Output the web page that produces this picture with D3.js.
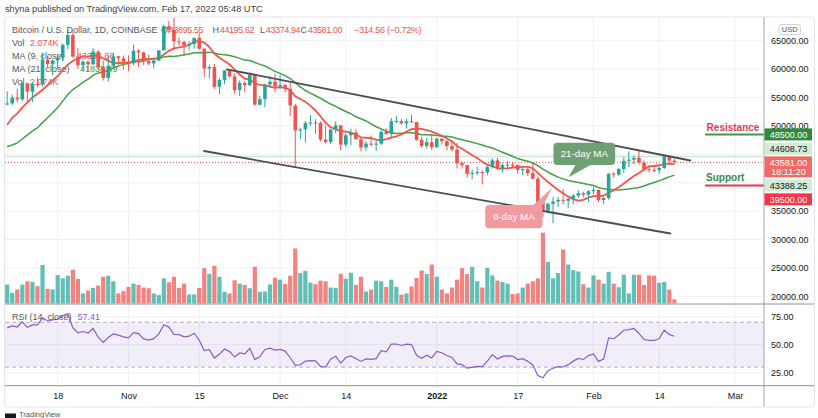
<!DOCTYPE html>
<html><head><meta charset="utf-8">
<script src="https://cdn.jsdelivr.net/npm/d3@7"></script>
<style>
body{margin:0;background:#fff}
svg{display:block}
text{font-family:"Liberation Sans",Arial,sans-serif}
</style>
</head><body>
<svg id="chart" width="818" height="418"></svg>
<script>
// ---------------- DATA (BTC/USD, Coinbase, 1D) ----------------
const firstDay = "2021-10-08";
// closes of the 37 days before the first visible candle (Sep 1 - Oct 7), used for MA/RSI warm-up (thousands USD)
const warmupClosesK = [48.85,49.3,50.0,49.9,51.75,52.66,46.86,46.07,46.4,44.85,45.16,46.03,44.96,47.1,48.15,47.77,47.3,
 48.3,47.25,42.96,40.59,43.57,44.9,42.84,42.72,43.21,42.23,41.05,41.56,43.82,48.15,47.66,48.23,49.26,51.5,55.34,53.8];
const firstOpenK = 53.8;
const closesK = [
 53.95,54.96,54.68,57.48,56.04,57.37,57.35,61.67,60.87,61.53,62.01,64.28,66.0,62.2,60.69,61.3,60.85,63.08,60.33,58.45,60.59,62.25,61.89,61.32,
 61.0,63.22,62.93,61.4,61.0,61.52,63.3,67.55,66.94,64.88,64.8,64.15,64.4,65.5,63.6,60.1,60.37,56.89,58.1,59.75,58.7,56.3,57.57,57.17,58.96,53.73,54.72,57.27,57.8,56.95,
 57.2,56.5,53.6,49.2,49.4,50.5,50.6,50.5,47.6,47.15,49.35,50.1,46.7,48.35,48.86,47.65,46.2,46.88,46.7,46.88,48.94,48.61,50.82,50.85,50.43,50.8,50.7,47.54,46.47,47.14,46.22,
 47.74,47.31,46.46,45.83,43.43,43.1,41.56,41.73,41.88,41.82,42.74,43.93,42.6,43.1,43.18,43.11,42.25,42.38,41.69,40.7,36.48,35.08,36.28,36.69,36.98,36.83,37.19,37.74,38.16,37.9,38.49,
 38.74,36.95,37.3,41.58,41.41,42.41,43.85,44.06,44.39,43.53,42.39,42.21,42.2,42.59,44.59,43.89555,43.581];
const highsK = [
 56.1,55.5,56.5,57.8,57.6,57.7,58.5,62.9,62.3,61.7,62.6,64.5,67.0,66.6,63.7,61.7,61.5,63.7,63.3,61.5,62.5,62.9,62.3,62.4,
 62.4,64.3,63.5,63.1,62.6,61.6,63.3,67.8,68.5,69.0,65.6,65.0,64.9,65.5,66.3,63.6,60.8,60.9,58.4,59.8,60.0,59.3,58.0,57.8,59.4,59.2,55.3,57.4,58.8,59.2,
 59.0,57.4,57.6,53.9,49.7,50.9,51.9,51.2,50.8,50.1,49.5,50.8,50.2,48.7,49.5,49.4,48.0,47.3,48.3,47.5,49.3,49.6,51.4,51.8,51.2,51.3,52.0,50.7,48.1,47.9,48.5,
 47.9,47.9,47.5,47.5,47.0,43.7,43.1,42.3,42.8,42.2,43.1,44.3,44.4,43.4,43.8,43.5,43.2,42.7,42.6,43.5,41.1,36.8,36.5,37.5,37.5,38.9,37.2,38.0,38.7,38.4,38.7,
 39.3,38.8,37.4,41.7,41.9,42.6,44.5,45.5,44.8,45.8,43.9,43.0,42.7,42.9,44.7,44.6,44.19562];
const lowsK = [
 53.6,53.7,54.1,54.4,54.0,54.2,56.8,56.9,60.2,58.9,60.0,61.4,63.5,62.0,60.0,59.7,59.5,60.7,59.9,58.0,57.8,60.2,60.7,59.9,
 59.6,60.7,60.4,60.7,60.7,60.1,61.4,63.3,66.3,63.3,64.1,62.3,63.3,63.6,63.4,58.6,58.4,56.5,55.6,57.4,58.5,55.7,55.3,55.9,57.0,53.6,53.6,53.3,56.7,56.0,
 56.5,55.9,51.7,42.7,47.7,47.1,50.0,48.6,47.3,46.9,46.8,48.7,45.7,46.3,46.6,47.6,45.5,45.6,46.4,45.6,46.6,48.4,48.0,50.5,50.2,49.5,50.5,47.4,46.1,46.0,45.7,
 46.2,46.7,45.7,45.5,42.5,42.5,40.9,40.6,41.3,39.7,41.3,42.5,42.3,41.8,42.6,42.7,41.6,41.3,41.2,40.6,35.5,34.0,34.6,32.9,35.7,36.2,35.5,36.2,37.3,37.4,36.6,
 38.0,36.6,36.3,37.0,40.9,41.2,41.7,42.7,43.2,43.2,42.0,41.8,41.9,41.6,42.4,43.3,43.37494];
// daily volume (thousand BTC)
const volumesK = [
 5.7,3.2,4.2,5.7,6.7,6.5,5.2,11.7,4.4,4.2,8.6,7.6,8.4,10.2,7.4,3.0,3.9,4.7,5.4,8.1,8.4,6.7,3.0,3.7,
 5.0,6.0,5.6,4.8,4.6,3.0,2.5,7.6,6.4,8.1,4.7,6.0,2.7,2.7,4.7,10.7,9.0,11.4,8.1,3.5,3.0,7.0,6.0,5.6,4.6,11.1,3.5,3.6,5.7,7.8,
 7.2,5.9,8.4,16.7,9.2,9.9,6.3,5.8,6.9,6.7,4.8,4.7,9.0,7.5,9.3,5.6,8.1,3.6,4.2,6.9,6.7,5.0,7.2,5.0,2.6,3.0,5.1,7.7,10.0,8.9,11.8,
 8.1,4.2,3.0,4.8,7.2,10.7,8.9,11.1,6.7,4.8,10.8,8.5,6.9,6.5,6.0,2.8,3.0,4.8,6.0,6.7,7.6,21.5,12.6,7.6,9.2,16.4,11.8,10.1,9.7,5.8,4.8,
 8.5,7.2,6.0,9.6,6.0,4.9,8.7,3.0,8.7,8.7,5.6,8.5,8.4,6.3,6.5,4.2,1.2];

// legend texts as shown on the chart
const legendTitle = "Bitcoin / U.S. Dollar, 1D, COINBASE";
const legendOHLC = [["O","43895.55"],["H","44195.62"],["L","43374.94"],["C","43581.00"]];
const legendChange = "\u2212314.56 (\u22120.72%)";
const legendVol = "2.074K", legendMA9 = "43388.68", legendMA21 = "41838.49", legendRSI = "57.41";

// axes
const priceTicks = [65000,60000,55000,50000,45000,40000,35000,30000,25000,20000];
const rsiTicks = [75,50,25];
const timeTickDates = ["2021-10-18","2021-11-01","2021-11-15","2021-12-01","2021-12-14","2022-01-01","2022-01-17","2022-02-01","2022-02-14","2022-03-01"];
const timeTickLabels = ["18","Nov","15","Dec","14","2022","17","Feb","14","Mar"];

// drawings made by the author (data coordinates)
const channelUpper = [["2021-11-20T11:00",59965],["2022-02-20T04:00",43908]];
const channelLower = [["2021-11-15T23:00",45581],["2022-02-16T05:00",31056]];
const resistanceLevel = 48500, supportLevel = 39500;
const levelSpan = ["2022-02-23T02:00","2022-03-07T10:00"];
const lastPrice = 43581.00;
const lightLevels = [44608.73];
const axisBadges = [
 {v:48500.00, bg:"#2f8a3c", fg:"#ffffff", txt:"48500.00"},
 {v:44608.73, bg:"#d3ead4", fg:"#131722", txt:"44608.73"},
 {v:43581.00, bg:"#f26a66", fg:"#ffffff", txt:"43581.00", sub:"18:11:20", fixed:true},
 {v:43388.25, bg:"#d3ead4", fg:"#131722", txt:"43388.25"},
 {v:39500.00, bg:"#f23645", fg:"#ffffff", txt:"39500.00"}
];
const callouts = [
 {text:"21-day MA", fill:"#6fa073", box:["2022-01-24T02:00","2022-02-05T07:00",47042,43116],
  tail:[["2022-01-28T10:00",43116],["2022-01-31T10:00",43116],["2022-01-27T02:00",40951]]},
 {text:"9-day MA", fill:"#f29aa0", box:["2022-01-10T14:00","2022-01-21T22:00",36074,31972],
  tail:[["2022-01-20T02:00",36074],["2022-01-22T02:00",36074],["2022-01-23T19:00",39067]]}
];

// ---------------- LAYOUT ----------------
const L = 5, R = 764, FR = 814, TOP = 17, PB = 304, RB = 385.7, BOT = 406.7;
const svg = d3.select("#chart");
const P = s => new Date(s.length <= 10 ? s + "T00:00:00Z" : s + ":00Z");

const x = d3.scaleUtc().domain([P("2021-10-18"), P("2022-03-01")]).range([57.7, 735]);
const y = d3.scaleLinear().domain([20000, 65000]).range([296.3, 40.7]);
const yv = d3.scaleLinear().domain([0, d3.max(volumesK)]).range([303.3, 232.7]);
const yr = d3.scaleLinear().domain([25, 75]).range([372.7, 316.7]);

const d0 = P(firstDay);
const bars = closesK.map((c, i) => ({
  date: d3.utcDay.offset(d0, i),
  o: (i === 0 ? firstOpenK : closesK[i - 1]) * 1000,
  h: highsK[i] * 1000, l: lowsK[i] * 1000, c: c * 1000, v: volumesK[i]
}));
bars[bars.length - 1].o = 43895.55;
const all = warmupClosesK.concat(closesK).map(v => v * 1000);
const W = warmupClosesK.length;
function sma(n) { return bars.map((b, i) => d3.mean(all.slice(i + W - n + 1, i + W + 1))); }
const ma9 = sma(9), ma21 = sma(21);
function rsi(arr, n) {
  const out = new Array(arr.length).fill(null);
  let g = 0, l = 0;
  for (let i = 1; i <= n; i++) { const d = arr[i] - arr[i - 1]; if (d > 0) g += d; else l -= d; }
  g /= n; l /= n; out[n] = 100 - 100 / (1 + g / l);
  for (let i = n + 1; i < arr.length; i++) {
    const d = arr[i] - arr[i - 1];
    g = (g * (n - 1) + Math.max(d, 0)) / n; l = (l * (n - 1) + Math.max(-d, 0)) / n;
    out[i] = 100 - 100 / (1 + g / l);
  }
  return out;
}
const rsiAll = rsi(all, 14);
const rsiVals = bars.map((b, i) => rsiAll[i + W]);

// header
svg.append("text").attr("x", 5).attr("y", 11.5).attr("font-size", 9.2).attr("fill", "#3b3e47")
  .text("shyna published on TradingView.com, Feb 17, 2022 05:48 UTC");

// frame
svg.append("rect").attr("x", 4.5).attr("y", 17).attr("width", 810).attr("height", 390).attr("rx", 4)
  .attr("fill", "#fff").attr("stroke", "#e0e3eb");

const defs = svg.append("defs");
defs.append("clipPath").attr("id", "cp").append("rect").attr("x", L).attr("y", TOP).attr("width", R - L).attr("height", PB - TOP);
defs.append("clipPath").attr("id", "cr").append("rect").attr("x", L).attr("y", PB).attr("width", R - L).attr("height", RB - PB);

// grid
const grid = svg.append("g");
grid.selectAll(".vg").data(timeTickDates).join("line")
  .attr("x1", d => x(P(d))).attr("x2", d => x(P(d))).attr("y1", TOP).attr("y2", RB)
  .attr("stroke", "#eef0f5").attr("stroke-width", 1);
grid.selectAll(".hg").data(priceTicks).join("line")
  .attr("x1", L).attr("x2", R).attr("y1", d => y(d)).attr("y2", d => y(d))
  .attr("stroke", "#eef0f5");
grid.selectAll(".rg").data(rsiTicks).join("line")
  .attr("x1", L).attr("x2", R).attr("y1", d => yr(d)).attr("y2", d => yr(d))
  .attr("stroke", "#eef0f5");

// ---- price pane ----
const pp = svg.append("g").attr("clip-path", "url(#cp)");

// legend (drawn under candles)
const leg = pp.append("g").attr("font-size", 9);
const red = "#ef5350", gry = "#555861";
leg.append("text").attr("x", 12).attr("y", 32.5).attr("fill", gry).text(legendTitle);
const ohlcX = [161, 212.5, 260, 300.5];
legendOHLC.forEach((p, i) => {
  const t = leg.append("text").attr("x", ohlcX[i]).attr("y", 32.5);
  t.append("tspan").attr("fill", gry).text(p[0]);
  t.append("tspan").attr("fill", red).attr("dx", 0.8).attr("letter-spacing", -0.4).text(p[1]);
});
leg.append("text").attr("x", 354).attr("y", 32.5).attr("fill", red).attr("letter-spacing", -0.3).text(legendChange);
function legLine(yy, parts) {
  const t = leg.append("text").attr("y", yy);
  parts.forEach(p => t.append("tspan").attr("x", p[0]).attr("fill", p[2]).text(p[1]));
}
legLine(45.5, [[12, "Vol", gry], [30, legendVol, red]]);
legLine(58.5, [[12, "MA (9, close)", gry], [77, legendMA9, red]]);
legLine(72, [[12, "MA (21, close)", gry], [80, legendMA21, "#43a047"]]);
legLine(85, [[12, "Vol", gry], [30, legendVol, red]]);

// volume
pp.selectAll(".vol").data(bars).join("rect")
  .attr("x", d => x(d.date) - 2.1).attr("width", 4.2)
  .attr("y", d => yv(d.v)).attr("height", d => yv(0) - yv(d.v))
  .attr("fill", d => d.c >= d.o ? "rgba(38,166,154,0.72)" : "rgba(239,83,80,0.72)");

// light levels and last price line
pp.selectAll(".ll").data(lightLevels).join("line")
  .attr("x1", L).attr("x2", R).attr("y1", d => y(d)).attr("y2", d => y(d))
  .attr("stroke", "#cfe7d0").attr("stroke-width", 1.5);
pp.append("line").attr("x1", L).attr("x2", R).attr("y1", y(lastPrice)).attr("y2", y(lastPrice))
  .attr("stroke", "#ef5350").attr("stroke-dasharray", "1,2").attr("stroke-width", 1);

// MAs
const maLine = arr => d3.line().x((d, i) => x(bars[i].date)).y(d => y(d))(arr);
pp.append("path").attr("d", maLine(ma21)).attr("fill", "none").attr("stroke", "#43a047").attr("stroke-width", 1.5);
pp.append("path").attr("d", maLine(ma9)).attr("fill", "none").attr("stroke", "#f0564c").attr("stroke-width", 1.8);

// candles
const cg = pp.selectAll(".cd").data(bars).join("g");
cg.append("line").attr("x1", d => x(d.date)).attr("x2", d => x(d.date))
  .attr("y1", d => y(d.h)).attr("y2", d => y(d.l))
  .attr("stroke", d => d.c >= d.o ? "#26a69a" : "#ef5350").attr("stroke-width", 1);
cg.append("rect").attr("x", d => x(d.date) - 1.8).attr("width", 3.6)
  .attr("y", d => y(Math.max(d.o, d.c))).attr("height", d => Math.max(1, Math.abs(y(d.o) - y(d.c))))
  .attr("fill", d => d.c >= d.o ? "#26a69a" : "#ef5350");

// channel
[channelUpper, channelLower].forEach(c => {
  pp.append("line").attr("x1", x(P(c[0][0]))).attr("y1", y(c[0][1]))
    .attr("x2", x(P(c[1][0]))).attr("y2", y(c[1][1]))
    .attr("stroke", "#4b4d55").attr("stroke-width", 1.8).attr("stroke-linecap", "round");
});

// callouts
callouts.forEach(c => {
  const g = pp.append("g");
  const bx0 = x(P(c.box[0])), bx1 = x(P(c.box[1])), by0 = y(c.box[2]), by1 = y(c.box[3]);
  g.append("path").attr("d", d3.line()(c.tail.map(p => [x(P(p[0])), y(p[1])])) + "Z").attr("fill", c.fill);
  g.append("rect").attr("x", bx0).attr("y", by0).attr("width", bx1 - bx0).attr("height", by1 - by0)
    .attr("rx", 4).attr("fill", c.fill);
  g.append("text").attr("x", (bx0 + bx1) / 2).attr("y", (by0 + by1) / 2 + 3.5).attr("text-anchor", "middle")
    .attr("font-size", 9.8).attr("fill", "#fff").text(c.text);
});

// resistance / support
const lx0 = x(P(levelSpan[0])), lx1 = x(P(levelSpan[1]));
svg.append("line").attr("x1", lx0).attr("x2", Math.min(lx1, R)).attr("y1", y(resistanceLevel)).attr("y2", y(resistanceLevel))
  .attr("stroke", "#3d9a47").attr("stroke-width", 2);
svg.append("text").attr("x", lx0 + 1.5).attr("y", y(resistanceLevel) - 3.5).attr("font-size", 10).attr("font-weight", "bold")
  .attr("fill", "#e33b52").text("Resistance");
svg.append("line").attr("x1", lx0).attr("x2", Math.min(lx1, R)).attr("y1", y(supportLevel)).attr("y2", y(supportLevel))
  .attr("stroke", "#e53950").attr("stroke-width", 2);
svg.append("text").attr("x", lx0 + 1).attr("y", y(supportLevel) - 4.2).attr("font-size", 10).attr("font-weight", "bold")
  .attr("fill", "#3d8a45").text("Support");

// ---- RSI pane ----
const rp = svg.append("g").attr("clip-path", "url(#cr)");
rp.append("rect").attr("x", L).attr("width", R - L).attr("y", yr(70)).attr("height", yr(30) - yr(70))
  .attr("fill", "rgba(126,87,194,0.1)");
[70, 30].forEach(v => rp.append("line").attr("x1", L).attr("x2", R).attr("y1", yr(v)).attr("y2", yr(v))
  .attr("stroke", "#a8a3b8").attr("stroke-dasharray", "4,3").attr("stroke-width", 0.9));
rp.append("path").attr("d", d3.line().x((d, i) => x(bars[i].date)).y(d => yr(d))(rsiVals))
  .attr("fill", "none").attr("stroke", "#8a5cc8").attr("stroke-width", 1.2);
const rl = rp.append("text").attr("y", 319.5).attr("font-size", 9);
rl.append("tspan").attr("x", 12).attr("fill", gry).text("RSI (14, close)");
rl.append("tspan").attr("x", 77.5).attr("fill", "#8a5cc8").text(legendRSI);

// separators
svg.append("line").attr("x1", R).attr("x2", R).attr("y1", TOP).attr("y2", BOT).attr("stroke", "#a3a6af");
svg.append("line").attr("x1", L).attr("x2", FR).attr("y1", PB).attr("y2", PB).attr("stroke", "#8f929b");
svg.append("line").attr("x1", L).attr("x2", FR).attr("y1", RB).attr("y2", RB).attr("stroke", "#8f929b");

// axis badges with overlap resolution
const fixedB = axisBadges.find(b => b.fixed);
const fy = y(fixedB.v);
fixedB.top = fy - 6; fixedB.bot = fy + 15;
let lim = fixedB.top - 1.5;
axisBadges.filter(b => b.v > fixedB.v).sort((a, b) => a.v - b.v).forEach(b => {
  b.bot = Math.min(y(b.v) + 6, lim); b.top = b.bot - 12; lim = b.top - 1.5;
});
lim = fixedB.bot + 2;
axisBadges.filter(b => b.v < fixedB.v).sort((a, b) => b.v - a.v).forEach(b => {
  b.top = Math.max(y(b.v) - 6, lim); b.bot = b.top + 12; lim = b.bot + 2;
});
// price axis labels hidden where a badge covers them
const covered = v => axisBadges.some(b => y(v) > b.top - 1 && y(v) < b.bot + 1);
const pa = svg.append("g").attr("transform", `translate(${R},0)`)
  .call(d3.axisRight(y).tickValues(priceTicks.filter(v => !covered(v))).tickSize(0).tickPadding(7).tickFormat(d => d.toFixed(2)));
pa.select(".domain").remove();
pa.selectAll("text").attr("font-size", 9).attr("fill", "#131722").attr("font-family", "Liberation Sans, Arial, sans-serif");

const ra = svg.append("g").attr("transform", `translate(${R},0)`)
  .call(d3.axisRight(yr).tickValues(rsiTicks).tickSize(0).tickPadding(7).tickFormat(d => d.toFixed(2)));
ra.select(".domain").remove();
ra.selectAll("text").attr("font-size", 9).attr("fill", "#131722").attr("font-family", "Liberation Sans, Arial, sans-serif");

// time axis
const ta = svg.append("g").attr("transform", `translate(0,${RB})`)
  .call(d3.axisBottom(x).tickValues(timeTickDates.map(P)).tickSize(0).tickPadding(7)
    .tickFormat((d, i) => timeTickLabels[i]));
ta.select(".domain").remove();
ta.selectAll("text").attr("font-size", 9).attr("fill", "#131722").attr("font-family", "Liberation Sans, Arial, sans-serif")
  .attr("font-weight", (d, i) => timeTickLabels[i] === "2022" ? "bold" : "normal");

// USD box
svg.append("rect").attr("x", 779).attr("y", 24.5).attr("width", 21.5).attr("height", 10).attr("rx", 2)
  .attr("fill", "#fff").attr("stroke", "#d1d4dc");
svg.append("text").attr("x", 789.7).attr("y", 32.3).attr("text-anchor", "middle").attr("font-size", 7.5)
  .attr("fill", "#50535e").text("USD");

axisBadges.forEach(b => {
  svg.append("rect").attr("x", R + 0.5).attr("y", b.top).attr("width", 47.5).attr("height", b.bot - b.top)
    .attr("fill", b.bg);
  svg.append("text").attr("x", R + 24.5).attr("y", b.top + 9.3).attr("text-anchor", "middle")
    .attr("font-size", 9).attr("fill", b.fg).text(b.txt);
  if (b.sub) svg.append("text").attr("x", R + 24.5).attr("y", b.top + 18.5).attr("text-anchor", "middle")
    .attr("font-size", 9).attr("fill", b.fg).text(b.sub);
});

// footer logo (mostly below the picture edge, as in the original)
svg.append("rect").attr("x", 5).attr("y", 413.5).attr("width", 11).attr("height", 6).attr("fill", "#131722");
svg.append("text").attr("x", 19).attr("y", 417).attr("font-size", 7.5).attr("fill", "#50535e").text("TradingView");
</script>
</body></html>
